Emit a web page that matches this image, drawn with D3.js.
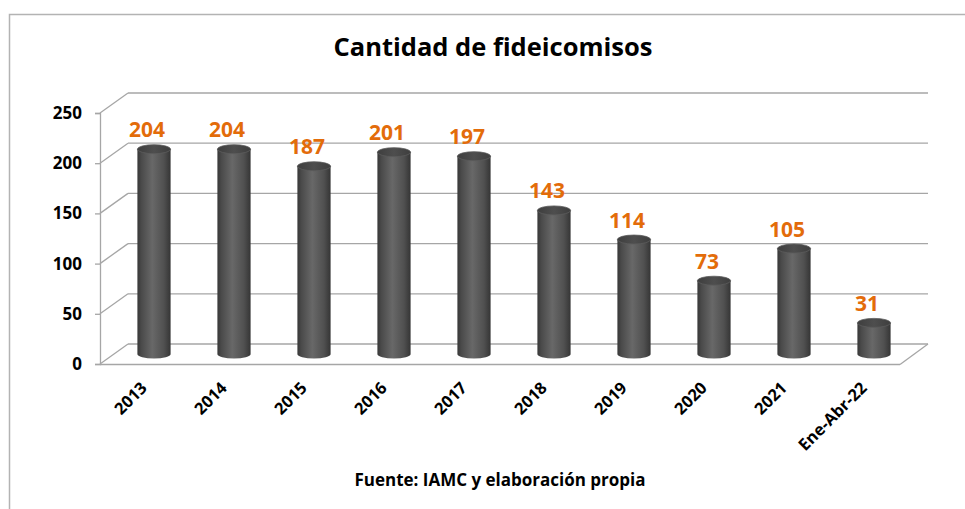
<!DOCTYPE html>
<html>
<head>
<meta charset="utf-8">
<script src="https://cdn.jsdelivr.net/npm/d3@7"></script>
<style>
  body { margin: 0; background: #fff; }
  text { font-family: "Open Sans", sans-serif; font-weight: bold; }
</style>
</head>
<body>
<div id="chart"></div>
<script>
// DATA
const categories = ["2013", "2014", "2015", "2016", "2017", "2018", "2019", "2020", "2021", "Ene-Abr-22"]
const values = [204, 204, 187, 201, 197, 143, 114, 73, 105, 31]
const yTicks = [0, 50, 100, 150, 200, 250]

// DIMENSIONS
const dimensions = {
  width: 965,
  height: 509,
  front: { left: 100, right: 900, top: 113, bottom: 364 },
  depth: { dx: 28, dy: -20 },
}

const wrapper = d3.select("#chart")
  .append("svg")
  .attr("width", dimensions.width)
  .attr("height", dimensions.height)

// outer frame (cropped on right and bottom)
wrapper.append("rect")
  .attr("x", 9.5)
  .attr("y", 14.5)
  .attr("width", 1000)
  .attr("height", 600)
  .attr("fill", "#fff")
  .attr("stroke", "#b3b3b3")
  .attr("stroke-width", 1.5)

// gradients for cylinders
const defs = wrapper.append("defs")
const bodyGrad = defs.append("linearGradient")
  .attr("id", "body")
  .attr("x1", 0).attr("x2", 1).attr("y1", 0).attr("y2", 0)
bodyGrad.selectAll("stop")
  .data([[0, "#383838"], [0.12, "#4a4a4a"], [0.45, "#686868"], [0.8, "#505050"], [1, "#353535"]])
  .join("stop")
  .attr("offset", d => d[0])
  .attr("stop-color", d => d[1])
const topGrad = defs.append("linearGradient")
  .attr("id", "top")
  .attr("x1", 0).attr("x2", 1).attr("y1", 0).attr("y2", 0)
topGrad.selectAll("stop")
  .data([[0, "#3e3e3e"], [0.5, "#4e4e4e"], [1, "#3e3e3e"]])
  .join("stop")
  .attr("offset", d => d[0])
  .attr("stop-color", d => d[1])

// SCALES
const xScale = d3.scaleBand()
  .domain(categories)
  .range([dimensions.front.left, dimensions.front.right])
  .paddingInner(0.585)
  .paddingOuter(0.2925)

const yScale = d3.scaleLinear()
  .domain([0, 250])
  .range([dimensions.front.bottom, dimensions.front.top])

const { dx, dy } = dimensions.depth
const gridColor = "#a6a6a6"

// back wall gridlines + side wall diagonals
const grid = wrapper.append("g")
grid.selectAll(".back")
  .data(yTicks)
  .join("line")
  .attr("x1", dimensions.front.left + dx)
  .attr("x2", dimensions.front.right + dx)
  .attr("y1", d => yScale(d) + dy)
  .attr("y2", d => yScale(d) + dy)
  .attr("stroke", gridColor)
  .attr("stroke-width", 1.3)
grid.selectAll(".diag")
  .data(yTicks)
  .join("line")
  .attr("x1", dimensions.front.left)
  .attr("x2", dimensions.front.left + dx)
  .attr("y1", d => yScale(d))
  .attr("y2", d => yScale(d) + dy)
  .attr("stroke", gridColor)
  .attr("stroke-width", 1.3)

// floor front edge and right edge
grid.append("line")
  .attr("x1", dimensions.front.left)
  .attr("x2", dimensions.front.right)
  .attr("y1", yScale(0) + 0.5)
  .attr("y2", yScale(0) + 0.5)
  .attr("stroke", gridColor)
  .attr("stroke-width", 1.3)
grid.append("line")
  .attr("x1", dimensions.front.right)
  .attr("x2", dimensions.front.right + dx)
  .attr("y1", yScale(0) + 0.5)
  .attr("y2", yScale(0) + dy)
  .attr("stroke", gridColor)
  .attr("stroke-width", 1.3)

// Y AXIS
const yAxisGenerator = d3.axisLeft(yScale)
  .tickValues(yTicks)
  .tickSize(5)
  .tickPadding(13)
const yAxis = wrapper.append("g")
  .attr("transform", `translate(${dimensions.front.left},0)`)
  .call(yAxisGenerator)
yAxis.select(".domain").attr("stroke", gridColor).attr("stroke-width", 1.3)
yAxis.selectAll(".tick line").attr("stroke", gridColor).attr("stroke-width", 1.3)
yAxis.selectAll(".tick text")
  .attr("font-size", 17)
  .attr("fill", "#000")
  .attr("font-family", "Open Sans")

// BARS (cylinders)
const rx = xScale.bandwidth() / 2
const ry = 4.5
const bars = wrapper.append("g")
  .selectAll("g")
  .data(values)
  .join("g")
  .attr("transform", (d, i) => `translate(${xScale(categories[i]) + rx + dx / 2},${dy / 2})`)

bars.append("path")
  .attr("d", d => {
    const yb = yScale(0)
    const yt = yScale(d)
    return `M${-rx},${yt} L${-rx},${yb} A${rx},${ry} 0 0 0 ${rx},${yb} L${rx},${yt} Z`
  })
  .attr("fill", "url(#body)")

bars.append("ellipse")
  .attr("cx", 0)
  .attr("cy", d => yScale(d))
  .attr("rx", rx)
  .attr("ry", ry)
  .attr("fill", "url(#top)")
  .attr("stroke", "#5c5c5c")
  .attr("stroke-width", 0.8)

// value labels
bars.append("text")
  .attr("x", -7)
  .attr("y", d => yScale(d) - 12)
  .attr("text-anchor", "middle")
  .attr("font-size", 21)
  .attr("fill", "#E36C0A")
  .text(d => d)

// X AXIS labels
wrapper.append("g")
  .selectAll("text")
  .data(categories)
  .join("text")
  .attr("transform", d => `translate(${xScale(d) + rx + 8},${yScale(0) + 25}) rotate(-45)`)
  .attr("text-anchor", "end")
  .attr("font-size", 16.5)
  .attr("fill", "#000")
  .text(d => d)

// TITLE
wrapper.append("text")
  .attr("x", 493)
  .attr("y", 56)
  .attr("text-anchor", "middle")
  .attr("font-size", 25.5)
  .attr("fill", "#000")
  .text("Cantidad de fideicomisos")

// SOURCE
wrapper.append("text")
  .attr("x", 500)
  .attr("y", 486)
  .attr("text-anchor", "middle")
  .attr("font-size", 17)
  .attr("fill", "#000")
  .text("Fuente: IAMC y elaboración propia")
</script>
</body>
</html>
